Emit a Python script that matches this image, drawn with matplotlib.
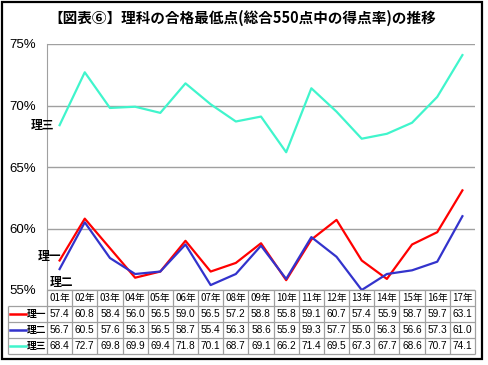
import matplotlib.pyplot as plt
from matplotlib.patches import Rectangle
from matplotlib.ticker import FuncFormatter

plt.rcParams['font.family'] = ['Noto Sans CJK JP', 'DejaVu Sans']

years = ['01年', '02年', '03年', '04年', '05年', '06年', '07年', '08年', '09年',
         '10年', '11年', '12年', '13年', '14年', '15年', '16年', '17年']
ri1 = [57.4, 60.8, 58.4, 56.0, 56.5, 59.0, 56.5, 57.2, 58.8,
       55.8, 59.1, 60.7, 57.4, 55.9, 58.7, 59.7, 63.1]
ri2 = [56.7, 60.5, 57.6, 56.3, 56.5, 58.7, 55.4, 56.3, 58.6,
       55.9, 59.3, 57.7, 55.0, 56.3, 56.6, 57.3, 61.0]
ri3 = [68.4, 72.7, 69.8, 69.9, 69.4, 71.8, 70.1, 68.7, 69.1,
       66.2, 71.4, 69.5, 67.3, 67.7, 68.6, 70.7, 74.1]
names = ['理一', '理二', '理三']
colors = ['#FF0000', '#3333CC', '#40F5CC']

W, H = 489, 365
fig = plt.figure(figsize=(W / 100, H / 100), dpi=100)

def px(x0, y0, x1, y1):
    return [x0 / W, 1 - y1 / H, (x1 - x0) / W, (y1 - y0) / H]

# 外枠
fig.add_artist(Rectangle((2 / W, 1 - 359 / H), 480 / W, 357 / H,
                         transform=fig.transFigure, fill=False,
                         edgecolor='black', linewidth=1.6))

fig.text(242 / W, 1 - 18 / H, '【図表⑥】理科の合格最低点(総合550点中の得点率)の推移',
         ha='center', va='center', fontsize=10.5, fontweight='bold')

ax = fig.add_axes(px(47, 44, 475, 290))
x = list(range(len(years)))
for vals, c in zip([ri3, ri1, ri2], [colors[2], colors[0], colors[1]]):
    ax.plot(x, vals, color=c, linewidth=1.6, zorder=3)

ax.set_xlim(-0.5, len(years) - 0.5)
ax.set_ylim(55, 75)
ax.set_yticks([55, 60, 65, 70, 75])
ax.yaxis.set_major_formatter(FuncFormatter(lambda v, p: f'{v:.0f}%'))
ax.tick_params(axis='y', length=0, pad=8, labelsize=9.5)
ax.set_xticks([])
ax.grid(axis='y', color='#A0A0A0', linewidth=1)
for s in ['top', 'right', 'bottom']:
    ax.spines[s].set_visible(False)
ax.spines['left'].set_color('#A0A0A0')
for t in ax.get_yticklabels():
    t.set_family(['Liberation Sans', 'DejaVu Sans'])

# 系列ラベル
ax.annotate(names[2], (0, ri3[0]), xytext=(-4, 0), textcoords='offset points',
            ha='right', va='center', fontsize=8.5, fontweight='bold')
ax.annotate(names[0], (0, ri1[0]), xytext=(1, 3), textcoords='offset points',
            ha='right', va='center', fontsize=8.5, fontweight='bold')
ax.annotate(names[1], (0, ri2[0]), xytext=(10, -10), textcoords='offset points',
            ha='right', va='center', fontsize=8.5, fontweight='bold',
            annotation_clip=False)

# データ表
tx = fig.add_axes(px(47, 290, 475, 354))
tx.set_xlim(-0.5, len(years) - 0.5)
tx.set_ylim(4, 0)
tx.axis('off')
gc = '#A0A0A0'
lw = 0.9
label_w = 39 / (428 / len(years))  # row label column width in data units
left = -0.5 - label_w
tx.hlines(0, -0.5, len(years) - 0.5, color=gc, lw=lw, clip_on=False)
for r in range(1, 5):
    tx.hlines(r, left, len(years) - 0.5, color=gc, lw=lw, clip_on=False)
for c in range(len(years) + 1):
    tx.vlines(c - 0.5, 0, 4, color=gc, lw=lw, clip_on=False)
tx.vlines(left, 1, 4, color=gc, lw=lw, clip_on=False)

for i, y in enumerate(years):
    tx.text(i, 0.5, y, ha='center', va='center', fontsize=7)
for r, (vals, nm, c) in enumerate(zip([ri1, ri2, ri3], names, colors)):
    for i, v in enumerate(vals):
        tx.text(i, r + 1.5, f'{v:.1f}', ha='center', va='center', fontsize=7.3,
                family=['Liberation Sans', 'DejaVu Sans'])
    tx.plot([left + 0.08, left + 0.72], [r + 1.5, r + 1.5], color=c, lw=1.8,
            clip_on=False)
    tx.text(-0.53, r + 1.5, nm, ha='right', va='center', fontsize=7,
            fontweight='bold')

fig.savefig('out.png', dpi=100)
